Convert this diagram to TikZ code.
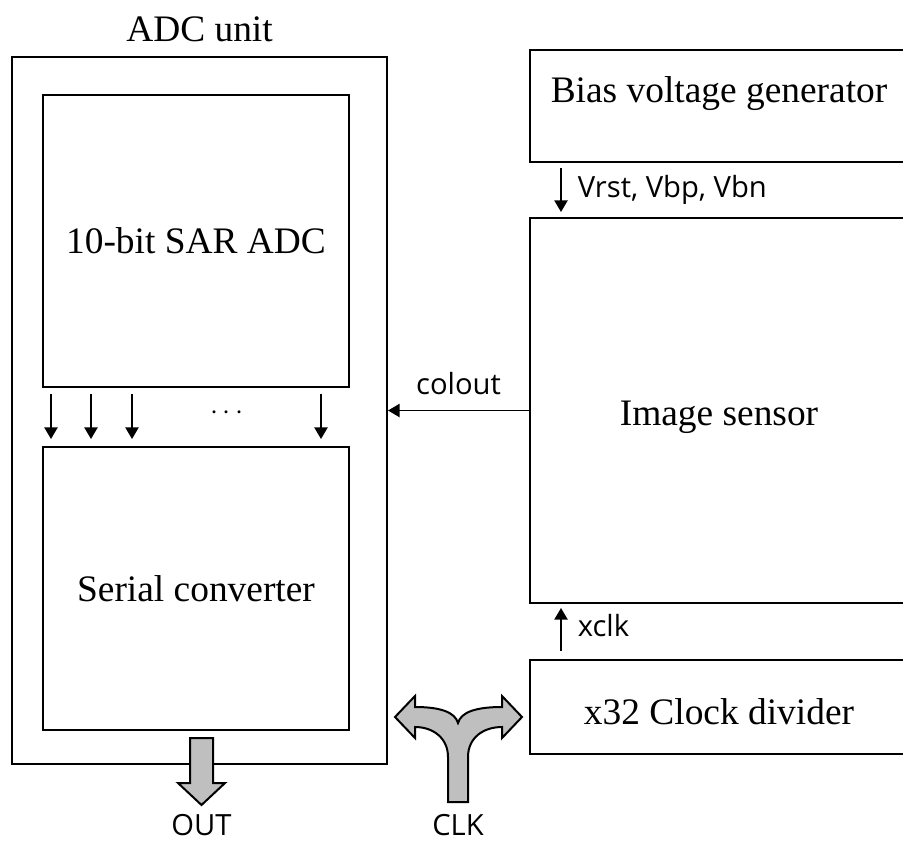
\documentclass[tikz,border=0pt]{standalone}
\usepackage{fontspec}
\setmainfont{Liberation Serif}
\setsansfont{Open Sans}
\usetikzlibrary{arrows.meta,positioning}
\definecolor{arrowgray}{gray}{0.75}

\begin{document}
\begin{tikzpicture}[x=0.5pt,y=-0.5pt,>={Triangle[length=5.8pt,width=6.6pt]},
  txt/.style={inner sep=0pt,font=\fontsize{18.7}{22}\selectfont},
  blk/.style={txt,draw,line width=1pt,align=center},
  sig/.style={->,line width=0.8pt},
  siglbl/.style={font=\sffamily\fontsize{14.6}{16}\selectfont,inner sep=0pt},
  fat/.style={draw,line width=1pt,fill=arrowgray,line join=miter}]
  \useasboundingbox (0,0) rectangle (903,841);
  \clip (0,0) rectangle (903,841);
  % ADC unit
  \node[blk,minimum width=187.5pt,minimum height=353.5pt](adcunit) at (199.5,410.5) {};
  \node[txt,above=7pt of adcunit](adclbl) {ADC unit};
  \node[blk,minimum width=153pt,minimum height=146pt](sar) at (196,241) {10-bit SAR ADC};
  \node[blk,minimum width=153pt,minimum height=141.5pt](serial) at (196,588.5) {Serial converter};
  % right column
  \node[blk,minimum width=189pt,minimum height=56pt,text depth=16pt](bias) at (719,106) {Bias voltage generator};
  \node[blk,minimum width=189pt,minimum height=192.5pt,text height=18.6pt](sensor) at (719,410.5) {Image sensor};
  \node[blk,minimum width=189pt,minimum height=47pt,text height=17.5pt](clock) at (719,707) {x32 Clock divider};
  % parallel bits
  \foreach \dx in {4.5pt,24.5pt,45pt,139.5pt}
    \draw[sig,shorten <=3pt,shorten >=3.5pt]([xshift=\dx]sar.south west)--([xshift=\dx]serial.north west);
  \node(dots) at (227,413) {\fontsize{15}{15}\selectfont$\cdots$};
  % signals
  \draw[sig,shorten <=2.5pt,shorten >=2.5pt]([xshift=16pt]bias.south west)--([xshift=16pt]sensor.north west)
    node[siglbl,midway,right=8pt](vlbl){Vrst, Vbp, Vbn};
  \draw[sig,shorten <=4pt,shorten >=2pt]([xshift=16pt]clock.north west)--([xshift=16pt]sensor.south west)
    node[siglbl,pos=0.6,right=8pt](xlbl){xclk};
  \draw[sig](sensor.west)--(adcunit.east) node[siglbl,midway,above=7.5pt](clbl){colout};
  % OUT
  \draw[fat](190,738)--(213,738)--(213,783)--(225,783)--(201.5,805)--(178,783)--(190,783)--cycle;
  \node[siglbl,anchor=base](outlbl) at (201.5,835) {OUT};
  % CLK
  \draw[fat](448,802)--(448,757) .. controls (448,738) and (433,727) .. (415,727)
    --(415,738)--(395,717)--(415,696)--(415,707) .. controls (440,707) and (455,712) .. (458,723)
    .. controls (461,712) and (476,707) .. (502,707)--(502,696)--(522,717)--(502,738)--(502,727)
    .. controls (483,727) and (468,738) .. (468,757)--(468,802)--cycle;
  \node[siglbl,anchor=base](clklbl) at (458,835) {CLK};
\end{tikzpicture}
\end{document}
